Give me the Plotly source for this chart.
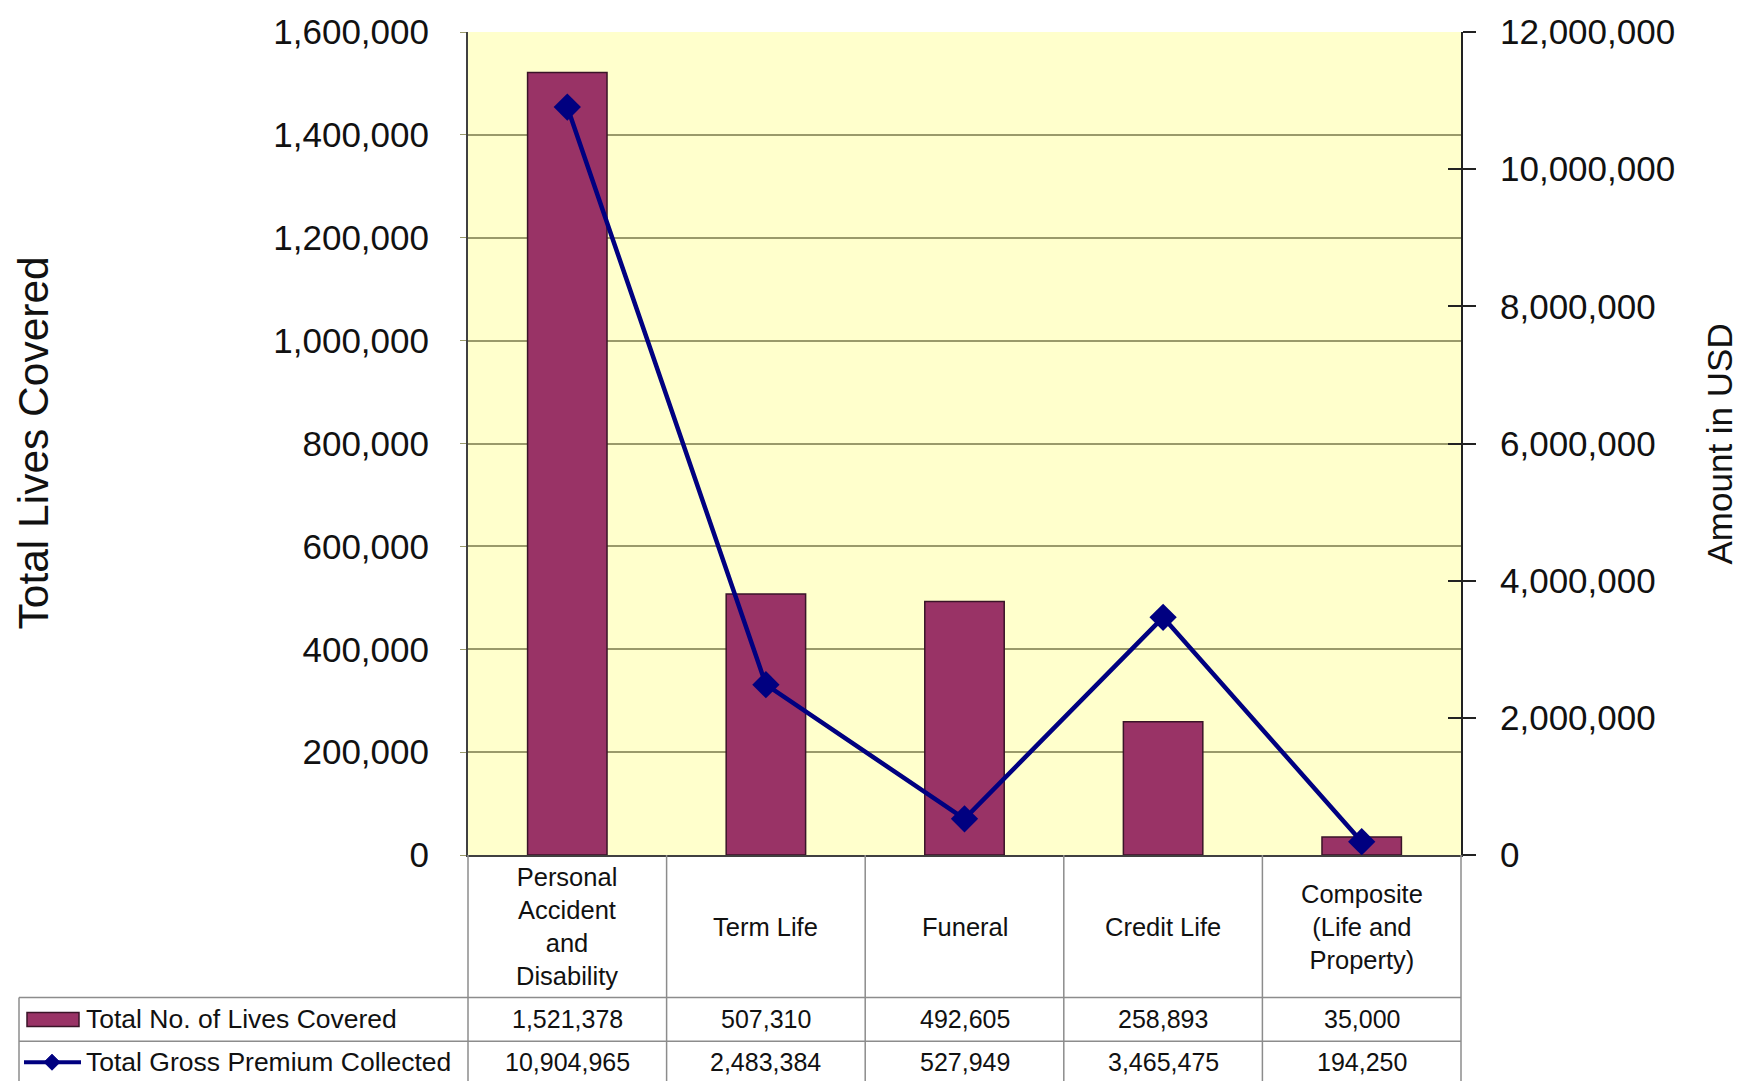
import plotly.graph_objects as go

# Insurance product lines and their figures
categories = ["Personal Accident and Disability", "Term Life", "Funeral", "Credit Life",
              "Composite (Life and Property)"]
category_labels = ["Personal<br>Accident<br>and<br>Disability", "Term Life", "Funeral",
                   "Credit Life", "Composite<br>(Life and<br>Property)"]
lives_covered = [1521378, 507310, 492605, 258893, 35000]
gross_premium = [10904965, 2483384, 527949, 3465475, 194250]

series_names = ["Total No. of Lives Covered", "Total Gross Premium Collected"]
left_ticks = [0, 200000, 400000, 600000, 800000, 1000000, 1200000, 1400000, 1600000]
right_ticks = [0, 2000000, 4000000, 6000000, 8000000, 10000000, 12000000]

W, H = 1739, 1081
PL, PR, PT, PB = 468, 1461, 29, 855   # plot box in pixels

BAR = "#993366"
LINE = "#000080"
GRID = "#9a9a6a"
TABLE = "#8c8c8c"
FONT = "Liberation Sans, Arial, sans-serif"


def px(x):
    return (x - PL) / (PR - PL)


def py(y):
    return (PB - y) / (PB - PT)


fig = go.Figure()

fig.add_trace(go.Bar(
    x=categories, y=lives_covered, name=series_names[0],
    marker=dict(color=BAR, line=dict(color="#3a1428", width=1.5)),
    yaxis="y", showlegend=False,
))
fig.add_trace(go.Scatter(
    x=categories, y=gross_premium, name=series_names[1],
    mode="lines+markers",
    line=dict(color=LINE, width=4.5),
    marker=dict(symbol="diamond", size=21, color=LINE),
    yaxis="y2", showlegend=False,
))

shapes = []
annotations = []

# Table grid below the plot
row_lines = [998, 1042, 1086]
col_edges = [PL + i * (PR - PL) / 5 for i in range(6)]
for xe in col_edges:
    shapes.append(dict(type="line", xref="paper", yref="paper",
                       x0=px(xe), x1=px(xe), y0=py(PB), y1=py(1090),
                       line=dict(color=TABLE, width=1.5)))
shapes.append(dict(type="line", xref="paper", yref="paper",
                   x0=px(19), x1=px(19), y0=py(998), y1=py(1090),
                   line=dict(color=TABLE, width=1.5)))
for yr in row_lines:
    shapes.append(dict(type="line", xref="paper", yref="paper",
                       x0=px(19), x1=px(PR), y0=py(yr), y1=py(yr),
                       line=dict(color=TABLE, width=1.5)))

# Legend keys in the table rows
shapes.append(dict(type="rect", xref="paper", yref="paper",
                   x0=px(27), x1=px(79), y0=py(1027), y1=py(1013),
                   fillcolor=BAR, line=dict(color="#3a1428", width=1.5)))
shapes.append(dict(type="line", xref="paper", yref="paper",
                   x0=px(24), x1=px(81), y0=py(1063), y1=py(1063),
                   line=dict(color=LINE, width=4)))
cx, cy, r = 52, 1063, 8
shapes.append(dict(type="path", xref="paper", yref="paper",
                   path=f"M {px(cx - r)} {py(cy)} L {px(cx)} {py(cy - r)} "
                        f"L {px(cx + r)} {py(cy)} L {px(cx)} {py(cy + r)} Z",
                   fillcolor=LINE, line=dict(color=LINE, width=1)))

table_font = dict(family=FONT, size=25, color="#111111")
legend_font = dict(family=FONT, size=26.5, color="#111111")
annotations.append(dict(text=series_names[0], xref="paper", yref="paper",
                        x=px(84), y=py(1020), xanchor="left", yanchor="middle",
                        showarrow=False, font=legend_font))
annotations.append(dict(text=series_names[1], xref="paper", yref="paper",
                        x=px(84), y=py(1063), xanchor="left", yanchor="middle",
                        showarrow=False, font=legend_font))

for cat, lab, v1, v2 in zip(categories, category_labels, lives_covered, gross_premium):
    annotations.append(dict(text=lab, xref="x", yref="paper", x=cat, y=py(927),
                            xanchor="center", yanchor="middle", showarrow=False,
                            font=dict(family=FONT, size=25.5, color="#111111"),
                            align="center"))
    annotations.append(dict(text=f"{v1:,}", xref="x", yref="paper", x=cat, y=py(1020),
                            xanchor="center", yanchor="middle", showarrow=False,
                            font=table_font))
    annotations.append(dict(text=f"{v2:,}", xref="x", yref="paper", x=cat, y=py(1063),
                            xanchor="center", yanchor="middle", showarrow=False,
                            font=table_font))

# Axis titles
annotations.append(dict(text="Total Lives Covered", xref="paper", yref="paper",
                        x=px(33), y=py(442), textangle=-90, showarrow=False,
                        xanchor="center", yanchor="middle",
                        font=dict(family=FONT, size=42.5, color="#111111")))
annotations.append(dict(text="Amount in USD", xref="paper", yref="paper",
                        x=px(1719), y=py(443), textangle=-90, showarrow=False,
                        xanchor="center", yanchor="middle",
                        font=dict(family=FONT, size=35, color="#111111")))

tick_font = dict(family=FONT, size=35, color="#111111")

fig.update_layout(
    width=W, height=H,
    margin=dict(l=PL, r=W - PR, t=PT, b=H - PB),
    paper_bgcolor="white",
    plot_bgcolor="#ffffcc",
    bargap=0.6,
    showlegend=False,
    shapes=shapes,
    annotations=annotations,
    xaxis=dict(
        showticklabels=False, ticks="", showgrid=False,
        showline=True, linecolor="#404040", linewidth=2,
        fixedrange=True,
    ),
    yaxis=dict(
        range=[0, 1600000], tickvals=left_ticks,
        ticktext=[f"{t:,}" for t in left_ticks],
        tickfont=tick_font, showgrid=True, gridcolor=GRID, gridwidth=1.5,
        zeroline=False, showline=True, linecolor="#404040", linewidth=2,
        ticks="outside", ticklen=6, tickcolor=GRID, ticklabelstandoff=24,
    ),
    yaxis2=dict(
        range=[0, 12000000], tickvals=right_ticks,
        ticktext=[f"{t:,}" for t in right_ticks],
        tickfont=tick_font, overlaying="y", side="right",
        showgrid=False, zeroline=False,
        showline=True, linecolor="#222222", linewidth=2,
        ticks="outside", ticklen=13, tickcolor="#222222", tickwidth=1.5,
        ticklabelstandoff=17,
    ),
    yaxis3=dict(
        range=[0, 12000000], tickvals=right_ticks, overlaying="y", side="right",
        showticklabels=False, showgrid=False, zeroline=False, showline=False,
        ticks="inside", ticklen=13, tickcolor="#222222", tickwidth=1.5,
    ),
)

# An empty trace keeps the inner right-axis tick marks on the shared scale
fig.add_trace(go.Scatter(x=[categories[0]], y=[None], yaxis="y3", showlegend=False,
                         hoverinfo="skip"))

fig.write_html("out.html")
